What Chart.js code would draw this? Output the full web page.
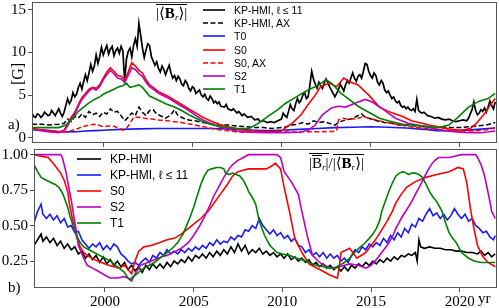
<!DOCTYPE html>
<html><head><meta charset="utf-8">
<script src="https://cdn.jsdelivr.net/npm/chart.js@4"></script>
<style>
html,body{margin:0;padding:0;background:#fff;}
#wrap{position:relative;width:499px;height:308px;overflow:hidden;background:#fff;}
canvas{position:absolute;left:0;top:0;}
.t{position:absolute;font-family:"Liberation Serif","DejaVu Serif",serif;color:#000;white-space:nowrap;line-height:1;}
.leg{position:absolute;font-family:"Liberation Sans","DejaVu Sans",sans-serif;color:#000;}
.leg .row{display:flex;align-items:center;white-space:nowrap;}
.ob{display:inline-block;border-top:1px solid #000;padding-top:1px;line-height:1;}
.sb{font-size:9px;font-style:italic;vertical-align:-2px;}
</style></head><body>
<div id="wrap">
<canvas id="cTop" width="499" height="308"></canvas>
<canvas id="cBot" width="499" height="308"></canvas>
<div class="t" style="left:7px;top:66px;font-size:16px;transform:rotate(-90deg);transform-origin:50% 50%;">[G]</div>
<div class="t" style="left:8px;top:117px;font-size:15px;">a)</div>
<div class="t" style="left:8px;top:280px;font-size:15px;">b)</div>
<div class="t" style="left:478px;top:291px;font-size:15px;">yr</div>
<div class="t" style="left:156px;top:4px;font-size:15px;"><span class="ob">|⟨<b>B</b><span class="sb">r</span>⟩|</span></div>
<div class="t" style="left:309px;top:153px;font-size:15px;"><span class="ob">|<span class="ob" style="padding-top:0">B</span><span class="sb">r</span>|</span>/<span class="ob">|⟨<b>B</b><span class="sb">r</span>⟩|</span></div>
<div class="leg" id="legTop" style="left:203px;top:3px;font-size:10.5px;"></div>
<div class="leg" id="legBot" style="left:77px;top:151px;font-size:12px;"></div>
</div>
<script>
// ---------- shared axis values ----------
const xTickYears = [2000, 2005, 2010, 2015, 2020];
const topYTicks = [0, 5, 10, 15];
const botYTicks = [0.25, 0.50, 0.75, 1.00];

// ---------- panel a) : |<B_r>| in G ----------
// [year, value] pairs
const kpL11Top = [[1996.0,2.9],[1996.1,2.5],[1996.2,2.4],[1996.3,2.8],[1996.4,2.7],[1996.5,2.4],[1996.6,2.6],[1996.7,3.0],[1996.8,2.8],[1996.9,2.6],
[1997.0,2.7],[1997.1,3.2],[1997.2,2.9],[1997.3,2.6],[1997.4,3.0],[1997.5,3.4],[1997.6,2.9],[1997.7,2.5],[1997.8,3.0],[1997.9,3.8],
[1998.0,4.6],[1998.1,4.0],[1998.2,4.4],[1998.3,5.3],[1998.4,4.8],[1998.5,5.1],[1998.6,5.9],[1998.7,6.4],[1998.8,5.7],[1998.9,6.6],
[1999.0,7.4],[1999.1,6.7],[1999.2,7.6],[1999.3,8.6],[1999.4,7.8],[1999.5,8.4],[1999.6,9.7],[1999.7,8.7],[1999.8,9.5],[1999.9,10.6],
[2000.0,9.7],[2000.1,10.3],[2000.2,10.8],[2000.3,9.8],[2000.4,10.4],[2000.5,10.7],[2000.6,9.6],[2000.7,10.2],[2000.8,10.5],[2000.9,9.9],
[2001.0,10.7],[2001.1,10.2],[2001.2,6.6],[2001.3,9.2],[2001.4,10.1],[2001.5,10.5],[2001.6,9.5],[2001.7,10.8],[2001.8,11.6],[2001.9,10.7],
[2002.0,13.4],[2002.1,12.0],[2002.2,10.5],[2002.3,9.4],[2002.4,10.3],[2002.5,11.0],[2002.6,10.8],[2002.7,9.5],[2002.8,9.0],[2002.9,8.5],
[2003.0,8.9],[2003.1,8.1],[2003.2,7.7],[2003.3,8.4],[2003.4,8.0],[2003.5,7.4],[2003.6,8.0],[2003.7,8.5],[2003.8,7.6],[2003.9,7.0],
[2004.0,7.3],[2004.1,6.7],[2004.2,7.2],[2004.3,6.9],[2004.4,6.3],[2004.5,6.1],[2004.6,6.7],[2004.7,6.4],[2004.8,5.8],[2004.9,5.5],
[2005.0,6.0],[2005.1,5.8],[2005.2,5.2],[2005.3,5.4],[2005.4,5.6],[2005.5,5.0],[2005.6,4.8],[2005.7,5.1],[2005.8,4.6],[2005.9,4.4],
[2006.0,4.9],[2006.1,4.6],[2006.2,4.1],[2006.3,4.3],[2006.4,4.0],[2006.5,4.2],[2006.6,3.7],[2006.8,3.6],[2006.9,3.9],[2007.0,3.4],
[2007.2,3.2],[2007.3,3.4],[2007.5,2.9],[2007.6,3.1],[2007.8,2.6],[2007.9,2.8],[2008.1,2.4],[2008.3,2.5],[2008.5,2.1],[2008.7,2.2],
[2008.8,1.9],[2009.0,2.0],[2009.2,1.8],[2009.4,1.9],[2009.6,1.8],[2009.8,2.0],[2010.0,2.2],[2010.1,2.9],[2010.2,2.6],[2010.3,2.4],
[2010.4,3.1],[2010.5,3.9],[2010.6,3.4],[2010.7,3.2],[2010.8,4.0],[2010.9,4.6],[2011.0,4.1],[2011.1,4.4],[2011.2,5.0],[2011.3,5.3],
[2011.4,4.6],[2011.5,4.8],[2011.6,6.2],[2011.7,7.8],[2011.8,6.9],[2011.9,6.3],[2012.0,5.8],[2012.1,6.5],[2012.2,6.1],[2012.3,5.8],
[2012.4,6.4],[2012.5,6.9],[2012.6,6.5],[2012.7,6.0],[2012.8,5.6],[2012.9,5.2],[2013.0,4.8],[2013.1,5.2],[2013.2,5.6],[2013.3,6.3],
[2013.4,5.9],[2013.5,5.5],[2013.6,6.2],[2013.7,6.7],[2013.8,6.4],[2013.9,7.0],[2014.0,7.6],[2014.1,7.0],[2014.2,6.6],[2014.3,7.2],
[2014.4,7.4],[2014.5,7.0],[2014.6,7.8],[2014.7,8.7],[2014.8,8.6],[2014.9,7.8],[2015.0,7.3],[2015.1,7.0],[2015.2,7.6],[2015.3,7.3],
[2015.4,6.5],[2015.5,6.2],[2015.6,6.7],[2015.7,6.4],[2015.8,5.6],[2015.9,5.3],[2016.0,5.5],[2016.1,5.0],[2016.2,4.6],[2016.3,4.8],
[2016.4,4.3],[2016.5,4.1],[2016.6,4.3],[2016.7,3.8],[2016.8,3.6],[2016.9,3.7],[2017.0,3.4],[2017.1,3.6],[2017.2,3.3],[2017.3,3.2],
[2017.4,3.4],[2017.5,3.1],[2017.6,4.5],[2017.7,3.2],[2017.8,3.0],[2017.9,2.9],[2018.0,3.0],[2018.2,2.6],[2018.4,2.5],[2018.6,2.3],
[2018.8,2.4],[2019.0,2.2],[2019.2,2.1],[2019.4,2.2],[2019.6,2.0],[2019.8,1.9],[2020.0,2.0],[2020.2,2.1],[2020.4,2.0],[2020.5,2.3],
[2020.6,2.8],[2020.7,3.3],[2020.8,4.2],[2020.9,3.2],[2021.0,2.7],[2021.1,2.9],[2021.2,3.3],[2021.3,3.1],[2021.4,3.5],[2021.5,3.0],
[2021.6,3.6],[2021.7,4.3],[2021.8,3.8],[2021.9,3.4],[2022.0,4.2]];

const kpAxYears = [1996.0,1996.5,1997.0,1997.5,1997.8,1998.0,1998.2,1998.4,1998.6,1998.8,1999.0,1999.2,1999.4,1999.6,1999.8,2000.0,2000.2,2000.4,2000.6,2000.8,2001.0,2001.2,2001.4,2001.6,2001.8,2002.0,2002.2,2002.4,2002.6,2002.8,2003.0,2003.3,2003.5,2003.8,2004.0,2004.2,2004.5,2004.8,2005.1,2005.4,2005.8,2006.2,2006.6,2007.0,2007.5,2008.0,2008.5,2009.0,2009.5,2010.0,2010.3,2010.6,2010.9,2011.2,2011.5,2011.8,2012.1,2012.4,2012.7,2013.0,2013.3,2013.6,2013.9,2014.2,2014.5,2014.7,2014.9,2015.2,2015.5,2015.8,2016.2,2016.6,2017.0,2017.5,2018.0,2018.5,2019.0,2019.5,2020.0,2020.5,2021.0,2021.5,2022.0];
const kpAxVals = [1.6,1.6,1.5,1.6,1.7,2.2,1.9,2.5,2.3,2.8,2.4,3.1,2.7,2.9,2.5,3.0,2.8,3.4,3.0,3.1,2.6,2.0,2.4,2.9,2.6,3.6,3.0,2.6,3.2,3.3,2.8,2.5,2.3,2.7,3.3,2.6,2.3,2.1,2.0,1.9,1.7,1.6,1.5,1.5,1.4,1.3,1.2,1.2,1.1,1.2,1.3,1.5,1.6,1.8,1.6,2.0,1.8,1.9,1.7,1.5,1.9,2.1,2.2,2.5,2.8,2.4,2.3,2.1,1.9,1.8,1.7,1.5,1.5,1.4,1.3,1.3,1.2,1.2,1.2,1.3,1.4,1.5,1.8];

const t0Years = [1996.0,1996.5,1997.0,1997.5,1998.0,1998.5,1999.0,1999.5,2000.0,2001.0,2002.0,2003.0,2004.0,2005.0,2006.0,2007.0,2008.0,2008.5,2009.0,2009.5,2010.0,2011.0,2012.0,2013.0,2014.0,2015.0,2016.0,2017.0,2018.0,2018.7,2019.5,2020.0,2021.0,2022.0];
const t0Vals = [1.0,0.95,0.85,0.75,0.7,0.72,0.8,0.85,0.9,1.0,1.05,1.1,1.1,1.1,1.1,1.05,0.95,0.9,0.85,0.85,0.9,1.0,1.1,1.2,1.25,1.3,1.25,1.15,1.0,0.85,0.8,0.85,1.0,1.15];

const s0TopYears = [1996.0,1996.5,1997.0,1997.5,1997.8,1998.0,1998.2,1998.4,1998.6,1998.8,1999.0,1999.2,1999.4,1999.6,1999.8,2000.0,2000.2,2000.4,2000.6,2000.8,2001.0,2001.2,2001.4,2001.6,2001.8,2002.0,2002.2,2002.4,2002.6,2002.8,2003.1,2003.4,2003.7,2004.0,2004.4,2004.8,2005.2,2005.6,2006.0,2006.5,2007.0,2007.5,2008.0,2008.5,2009.0,2009.5,2010.0,2010.3,2010.6,2011.1,2011.5,2011.9,2012.2,2012.7,2013.1,2013.5,2013.8,2014.3,2014.9,2015.5,2016.0,2016.4,2016.8,2017.3,2017.9,2018.5,2019.0,2019.5,2020.1,2020.6,2020.9,2021.1,2021.3,2021.5,2021.7,2022.0];
const s0TopVals = [1.1,0.95,0.8,0.7,0.9,1.6,2.4,3.0,3.9,4.7,5.2,5.7,5.9,5.8,6.2,7.0,7.7,8.2,7.8,7.3,7.2,6.8,7.7,8.8,8.4,7.9,7.6,6.8,6.2,5.9,5.4,5.1,4.8,4.4,3.9,3.4,2.9,2.4,2.0,1.6,1.3,1.05,0.9,0.8,0.75,0.7,0.8,1.3,1.7,2.7,3.9,5.0,6.0,6.4,6.0,7.0,6.6,6.2,5.0,3.6,3.1,2.8,2.5,2.0,1.7,1.4,1.2,1.0,0.9,1.1,1.6,2.1,2.6,3.1,3.8,4.6];

const s0AxYears = [1996.0,1996.5,1997.0,1997.5,1998.0,1998.3,1998.6,1998.8,1999.2,1999.5,1999.8,2000.0,2000.3,2000.6,2000.9,2001.1,2001.3,2001.5,2001.7,2002.0,2002.3,2002.7,2003.1,2003.6,2004.0,2004.4,2004.9,2005.4,2005.9,2006.3,2006.9,2007.5,2008.0,2009.0,2010.0,2011.0,2012.0,2012.9,2013.1,2013.2,2013.4,2013.7,2014.0,2014.3,2014.6,2014.9,2015.3,2015.7,2016.2,2016.7,2017.2,2017.8,2018.4,2019.0,2019.6,2020.2,2020.8,2021.3,2021.7,2022.0];
const s0AxVals = [1.0,0.9,0.8,0.7,0.7,0.9,1.1,1.3,1.5,1.6,1.45,1.3,1.4,1.35,1.1,0.9,1.1,1.7,2.4,2.4,2.3,2.2,2.1,2.0,1.9,1.8,1.6,1.4,1.2,1.0,0.85,0.72,0.65,0.65,0.7,0.7,0.72,0.75,0.9,2.1,2.3,2.2,2.2,2.3,2.5,2.3,2.1,1.9,1.7,1.5,1.3,1.15,1.05,0.95,0.85,0.8,0.8,0.9,1.0,1.2];

const s2TopYears = [1996.0,1996.5,1997.0,1997.5,1997.8,1998.0,1998.2,1998.4,1998.6,1998.8,1999.0,1999.2,1999.4,1999.6,1999.8,2000.0,2000.2,2000.4,2000.6,2000.8,2001.0,2001.2,2001.4,2001.6,2001.8,2002.0,2002.2,2002.4,2002.6,2002.8,2003.1,2003.4,2003.7,2004.0,2004.4,2004.8,2005.2,2005.6,2006.0,2006.5,2007.0,2007.5,2008.0,2009.0,2010.0,2011.0,2011.5,2011.9,2012.3,2012.8,2013.2,2013.6,2014.2,2014.7,2015.1,2015.6,2016.0,2016.4,2017.1,2018.3,2019.0,2019.8,2020.5,2021.2,2022.0];
const s2TopVals = [1.0,0.85,0.7,0.6,0.8,1.4,2.2,2.8,3.7,4.5,5.0,5.5,5.8,5.6,6.0,6.8,7.4,7.9,7.5,7.0,6.9,6.5,7.3,8.2,8.0,7.5,7.2,6.5,6.0,5.7,5.2,4.9,4.6,4.2,3.7,3.2,2.6,2.1,1.7,1.3,1.0,0.8,0.7,0.6,0.6,0.65,0.9,1.5,2.7,3.5,3.7,3.6,4.1,4.5,4.2,3.5,2.9,2.3,1.7,1.2,0.9,0.7,0.6,0.6,0.8];

const t1TopYears = [1996.0,1996.5,1997.0,1997.5,1997.9,1998.3,1998.6,1998.9,1999.2,1999.5,1999.8,2000.0,2000.3,2000.6,2000.9,2001.1,2001.3,2001.5,2001.7,2002.0,2002.2,2002.6,2003.1,2003.5,2004.0,2004.4,2004.8,2005.2,2005.6,2006.0,2006.5,2007.0,2007.5,2008.2,2008.7,2009.3,2009.8,2010.2,2010.6,2011.0,2011.5,2012.0,2012.3,2012.5,2012.8,2013.0,2013.3,2013.8,2014.3,2014.9,2015.5,2016.0,2016.8,2017.9,2018.8,2019.4,2019.9,2020.5,2021.1,2021.6,2022.0];
const t1TopVals = [1.2,1.2,1.2,1.2,1.5,2.3,3.1,3.6,4.1,4.5,4.8,5.1,5.4,5.7,6.0,6.1,6.4,5.9,6.0,6.2,5.9,4.9,4.4,4.0,3.6,3.2,2.7,2.3,1.9,1.6,1.35,1.2,1.1,1.1,1.7,2.6,3.3,4.0,4.5,5.0,5.6,6.1,6.5,6.8,6.4,6.0,5.3,4.5,3.7,3.0,2.3,2.0,1.6,1.4,1.2,1.5,2.4,3.6,4.3,4.6,5.2];

// ---------- panel b) : |B_r| / |<B_r>| ----------
const kpYears = [1996.0,1996.2,1996.4,1996.5,1996.7,1996.9,1997.1,1997.3,1997.5,1997.7,1997.9,1998.1,1998.3,1998.5,1998.7,1998.9,1999.1,1999.3,1999.5,1999.7,1999.9,2000.1,2000.3,2000.5,2000.7,2000.9,2001.1,2001.3,2001.5,2001.7,2001.9,2002.1,2002.3,2002.5,2002.7,2002.9,2003.1,2003.3,2003.5,2003.7,2003.9,2004.1,2004.3,2004.5,2004.7,2004.9,2005.1,2005.3,2005.5,2005.7,2005.9,2006.1,2006.3,2006.5,2006.7,2006.9,2007.1,2007.3,2007.5,2007.7,2007.9,2008.1,2008.3,2008.5,2008.7,2008.9,2009.1,2009.3,2009.5,2009.7,2009.9,2010.1,2010.3,2010.5,2010.7,2010.9,2011.1,2011.3,2011.5,2011.7,2011.9,2012.1,2012.3,2012.5,2012.7,2012.9,2013.1,2013.3,2013.5,2013.7,2013.9,2014.1,2014.3,2014.5,2014.7,2014.9,2015.1,2015.3,2015.5,2015.7,2015.9,2016.1,2016.3,2016.5,2016.7,2016.9,2017.1,2017.3,2017.5,2017.6,2017.7,2017.8,2018.0,2018.3,2018.6,2018.9,2019.2,2019.5,2019.8,2020.1,2020.4,2020.7,2021.0,2021.2,2021.4,2021.6,2021.8,2022.0];
const kpVals = [0.36,0.40,0.44,0.39,0.42,0.38,0.41,0.36,0.39,0.34,0.37,0.33,0.35,0.30,0.32,0.27,0.30,0.26,0.29,0.24,0.28,0.23,0.26,0.22,0.25,0.21,0.24,0.19,0.22,0.18,0.21,0.17,0.22,0.19,0.23,0.20,0.23,0.20,0.24,0.21,0.25,0.23,0.26,0.24,0.28,0.25,0.29,0.27,0.30,0.27,0.31,0.28,0.32,0.29,0.33,0.30,0.35,0.31,0.37,0.32,0.36,0.30,0.33,0.31,0.34,0.30,0.32,0.29,0.31,0.28,0.30,0.27,0.30,0.26,0.28,0.25,0.27,0.24,0.26,0.22,0.24,0.21,0.23,0.20,0.22,0.19,0.21,0.18,0.21,0.18,0.22,0.20,0.23,0.21,0.24,0.22,0.25,0.23,0.26,0.24,0.27,0.25,0.28,0.26,0.29,0.28,0.30,0.29,0.31,0.25,0.40,0.35,0.34,0.35,0.34,0.34,0.33,0.33,0.32,0.32,0.31,0.31,0.30,0.32,0.29,0.31,0.28,0.30];

const kpL11RatioYears = [1996.0,1996.2,1996.4,1996.5,1996.7,1996.9,1997.1,1997.3,1997.5,1997.7,1997.9,1998.1,1998.3,1998.5,1998.7,1998.9,1999.1,1999.3,1999.5,1999.7,1999.9,2000.1,2000.3,2000.5,2000.7,2000.9,2001.1,2001.3,2001.5,2001.7,2001.9,2002.1,2002.3,2002.5,2002.7,2002.9,2003.1,2003.3,2003.5,2003.7,2003.9,2004.1,2004.3,2004.5,2004.7,2004.9,2005.1,2005.3,2005.5,2005.7,2005.9,2006.1,2006.3,2006.5,2006.7,2006.9,2007.1,2007.3,2007.5,2007.7,2007.9,2008.1,2008.3,2008.5,2008.7,2008.9,2009.1,2009.3,2009.5,2009.7,2009.9,2010.1,2010.3,2010.5,2010.7,2010.9,2011.1,2011.3,2011.5,2011.7,2011.9,2012.1,2012.3,2012.5,2012.7,2012.9,2013.1,2013.3,2013.5,2013.7,2013.9,2014.1,2014.3,2014.5,2014.7,2014.9,2015.1,2015.3,2015.5,2015.7,2015.9,2016.1,2016.3,2016.5,2016.7,2016.9,2017.1,2017.3,2017.5,2017.7,2017.9,2018.1,2018.3,2018.5,2018.7,2018.9,2019.1,2019.3,2019.5,2019.7,2019.9,2020.1,2020.3,2020.5,2020.7,2020.9,2021.1,2021.3,2021.5,2021.7,2021.9,2022.0];
const kpL11RatioVals = [0.52,0.60,0.65,0.58,0.55,0.58,0.54,0.57,0.52,0.55,0.49,0.50,0.45,0.46,0.40,0.37,0.34,0.37,0.35,0.38,0.33,0.36,0.33,0.37,0.35,0.30,0.28,0.25,0.23,0.24,0.22,0.25,0.27,0.24,0.29,0.27,0.31,0.29,0.33,0.30,0.32,0.30,0.33,0.31,0.34,0.32,0.35,0.33,0.36,0.34,0.38,0.36,0.40,0.37,0.39,0.38,0.42,0.40,0.43,0.42,0.47,0.46,0.50,0.48,0.55,0.50,0.47,0.44,0.47,0.43,0.45,0.41,0.43,0.39,0.41,0.36,0.35,0.31,0.33,0.29,0.31,0.28,0.31,0.27,0.30,0.27,0.29,0.25,0.27,0.24,0.29,0.33,0.31,0.35,0.33,0.37,0.35,0.38,0.36,0.41,0.38,0.43,0.40,0.45,0.42,0.48,0.45,0.51,0.49,0.55,0.53,0.58,0.62,0.57,0.59,0.55,0.58,0.54,0.57,0.62,0.58,0.55,0.58,0.53,0.55,0.50,0.48,0.45,0.46,0.42,0.40,0.43];

const s0RatioYears = [1996.0,1996.4,1996.8,1997.0,1997.2,1997.5,1997.7,1997.9,1998.0,1998.2,1998.4,1998.6,1998.8,1999.0,1999.4,1999.8,2000.2,2000.5,2000.8,2001.1,2001.3,2001.5,2001.7,2001.9,2002.2,2002.6,2003.1,2003.5,2003.9,2004.3,2004.6,2005.0,2005.4,2005.8,2006.1,2006.5,2006.9,2007.2,2007.5,2007.8,2008.1,2008.6,2009.1,2009.4,2009.6,2009.9,2010.1,2010.4,2010.7,2011.1,2011.5,2012.1,2012.7,2013.1,2013.2,2013.3,2013.8,2014.2,2014.7,2015.0,2015.3,2015.6,2015.9,2016.2,2016.4,2016.7,2017.0,2017.5,2018.1,2018.7,2019.4,2019.9,2020.2,2020.4,2020.6,2020.8,2021.0,2021.3,2021.6,2022.0];
const s0RatioVals = [1.00,0.99,0.98,0.95,0.92,0.87,0.82,0.74,0.65,0.53,0.42,0.35,0.31,0.29,0.26,0.24,0.22,0.21,0.20,0.22,0.19,0.16,0.25,0.32,0.35,0.36,0.38,0.40,0.41,0.44,0.47,0.51,0.55,0.60,0.65,0.72,0.79,0.85,0.88,0.89,0.90,0.90,0.90,0.92,0.94,0.90,0.77,0.60,0.41,0.31,0.23,0.19,0.15,0.13,0.20,0.31,0.34,0.27,0.31,0.36,0.41,0.47,0.53,0.60,0.66,0.72,0.77,0.81,0.84,0.86,0.88,0.91,0.90,0.80,0.62,0.48,0.36,0.28,0.24,0.21];

const s2RatioYears = [1996.0,1997.5,1997.6,1997.8,1997.9,1998.1,1998.2,1998.4,1998.5,1998.8,1999.0,1999.3,1999.6,2000.0,2000.3,2000.7,2001.1,2001.3,2001.5,2001.7,2002.0,2002.4,2002.8,2003.2,2003.5,2004.0,2004.3,2004.7,2005.0,2005.3,2005.6,2005.9,2006.1,2006.4,2006.7,2007.0,2007.2,2007.5,2007.8,2008.1,2009.7,2009.9,2010.1,2010.5,2010.9,2011.1,2011.4,2011.7,2012.1,2012.7,2013.2,2013.8,2014.3,2014.7,2015.0,2015.3,2015.6,2015.9,2016.2,2016.4,2016.7,2017.0,2017.3,2017.5,2017.8,2018.0,2018.2,2018.4,2018.6,2018.8,2019.4,2020.1,2020.9,2021.0,2021.2,2021.4,2021.5,2021.7,2021.8,2022.0];
const s2RatioVals = [1.00,1.00,0.98,0.88,0.81,0.68,0.60,0.45,0.36,0.27,0.22,0.20,0.18,0.15,0.13,0.13,0.14,0.13,0.11,0.16,0.22,0.24,0.26,0.28,0.29,0.32,0.34,0.38,0.43,0.49,0.56,0.64,0.70,0.77,0.84,0.90,0.93,0.96,0.98,1.00,1.00,0.98,0.88,0.81,0.72,0.60,0.43,0.29,0.24,0.20,0.21,0.23,0.22,0.20,0.22,0.26,0.31,0.36,0.42,0.48,0.55,0.61,0.67,0.72,0.79,0.84,0.89,0.93,0.96,0.98,0.98,1.00,1.00,0.98,0.93,0.85,0.79,0.67,0.60,0.55];

const t1RatioYears = [1996.0,1996.2,1996.4,1996.7,1997.0,1997.2,1997.4,1997.6,1997.7,1997.9,1998.0,1998.2,1998.4,1998.6,1998.8,1999.1,1999.4,1999.7,2000.0,2000.3,2000.5,2000.8,2001.1,2001.3,2001.4,2001.6,2001.9,2002.2,2002.5,2002.8,2003.1,2003.5,2003.8,2004.1,2004.4,2004.6,2004.8,2005.0,2005.2,2005.4,2005.6,2005.8,2006.0,2006.3,2006.5,2006.7,2006.8,2007.0,2007.2,2007.4,2007.6,2007.8,2008.0,2008.1,2008.3,2008.5,2008.7,2009.0,2009.3,2009.7,2010.0,2010.4,2010.8,2011.1,2011.5,2011.9,2012.3,2012.7,2013.0,2013.2,2013.5,2013.8,2014.0,2014.3,2014.6,2014.9,2015.1,2015.3,2015.5,2015.6,2015.8,2016.0,2016.2,2016.4,2016.6,2016.8,2017.0,2017.1,2017.3,2017.5,2017.7,2017.9,2018.1,2018.3,2018.5,2018.7,2019.0,2019.2,2019.4,2019.6,2019.8,2020.1,2020.3,2020.5,2020.8,2021.2,2021.6,2022.0];
const t1RatioVals = [0.93,0.88,0.84,0.82,0.80,0.79,0.77,0.73,0.70,0.63,0.58,0.50,0.43,0.38,0.35,0.33,0.31,0.29,0.27,0.25,0.23,0.20,0.17,0.13,0.12,0.14,0.17,0.20,0.22,0.24,0.27,0.31,0.34,0.38,0.44,0.50,0.56,0.63,0.71,0.79,0.85,0.89,0.90,0.91,0.91,0.90,0.87,0.86,0.87,0.86,0.85,0.82,0.77,0.74,0.70,0.65,0.53,0.43,0.36,0.31,0.30,0.29,0.27,0.26,0.24,0.22,0.21,0.20,0.20,0.22,0.24,0.27,0.30,0.34,0.37,0.41,0.44,0.48,0.54,0.60,0.67,0.74,0.80,0.85,0.87,0.88,0.87,0.86,0.87,0.87,0.86,0.84,0.79,0.74,0.70,0.67,0.60,0.52,0.45,0.41,0.38,0.31,0.29,0.27,0.25,0.24,0.24,0.24];

// ---------- helpers ----------
const BLACK = '#000000', BLUE = '#1a1aff', RED = '#ff0000', MAG = '#bf00bf', GREEN = '#008000';
const DASH = [5, 2.5];
function pts(xs, ys) { return xs.map((x, i) => ({ x: x, y: ys[i] })); }
function pairPts(p) { return p.map(q => ({ x: q[0], y: q[1] })); }
function ds(label, data, color, dash, width) {
  return { label: label, data: data, borderColor: color, backgroundColor: color,
           borderDash: dash || [], borderWidth: width || 1.5, pointRadius: 0, fill: false, tension: 0 };
}
function order(list) { list.forEach((d, i) => d.order = list.length - i); return list; }

const topSets = order([
  ds('KP-HMI, ℓ ≤ 11', pairPts(kpL11Top), BLACK, null, 1.7),
  ds('KP-HMI, AX', pts(kpAxYears, kpAxVals), BLACK, DASH, 1.5),
  ds('T0', pts(t0Years, t0Vals), BLUE, null, 1.6),
  ds('S0', pts(s0TopYears, s0TopVals), RED, null, 1.6),
  ds('S0, AX', pts(s0AxYears, s0AxVals), RED, DASH, 1.5),
  ds('S2', pts(s2TopYears, s2TopVals), MAG, null, 1.6),
  ds('T1', pts(t1TopYears, t1TopVals), GREEN, null, 1.6)
]);
const botSets = order([
  ds('KP-HMI', pts(kpYears, kpVals), BLACK, null, 1.6),
  ds('KP-HMI, ℓ ≤ 11', pts(kpL11RatioYears, kpL11RatioVals), BLUE, null, 1.6),
  ds('S0', pts(s0RatioYears, s0RatioVals), RED, null, 1.6),
  ds('S2', pts(s2RatioYears, s2RatioVals), MAG, null, 1.6),
  ds('T1', pts(t1RatioYears, t1RatioVals), GREEN, null, 1.6)
]);

const FRAME = '#555';
const framePlugin = {
  id: 'frame',
  afterDraw(chart) {
    const a = chart.chartArea, c = chart.ctx;
    c.save(); c.strokeStyle = FRAME; c.lineWidth = 1;
    c.strokeRect(Math.round(a.left) + 0.5, Math.round(a.top) + 0.5, Math.round(a.right - a.left) - 1, Math.round(a.bottom - a.top) - 1);
    c.restore();
  }
};
function zeroPad(s) { s.paddingTop = 0; s.paddingBottom = 0; s.paddingLeft = 0; s.paddingRight = 0; }

function makeChart(id, sets, cfg) {
  return new Chart(document.getElementById(id), {
    type: 'line',
    data: { datasets: sets },
    plugins: [framePlugin],
    options: {
      responsive: false, animation: false, devicePixelRatio: 1, events: [],
      layout: { padding: cfg.padding },
      plugins: { legend: { display: false }, tooltip: { enabled: false } },
      scales: {
        x: {
          type: 'linear', min: 1996, max: 2022.1,
          afterBuildTicks: s => { s.ticks = xTickYears.map(v => ({ value: v })); },
          afterFit: s => { s.height = cfg.xh; zeroPad(s); },
          border: { display: false },
          grid: { drawOnChartArea: false, drawTicks: true, tickLength: 4, color: FRAME },
          ticks: { display: cfg.xLabels, padding: 1, color: '#000', maxRotation: 0,
                   font: { family: 'Liberation Serif', size: 15 },
                   callback: v => String(v) }
        },
        y: {
          type: 'linear', min: cfg.ymin, max: cfg.ymax,
          afterBuildTicks: s => { s.ticks = cfg.yticks.map(v => ({ value: v })); },
          afterFit: s => { s.width = cfg.yw; zeroPad(s); },
          border: { display: false },
          grid: { drawOnChartArea: false, drawTicks: true, tickLength: 4, color: FRAME },
          ticks: { padding: 2, color: '#000', font: { family: 'Liberation Serif', size: 15 },
                   callback: cfg.yfmt }
        }
      }
    }
  });
}

makeChart('cTop', topSets, { padding: { left: 0, right: 2, top: 2, bottom: 161 }, xh: 4, yw: 32,
  xLabels: false, ymin: -0.6, ymax: 15.9, yticks: topYTicks, yfmt: v => String(v) });
makeChart('cBot', botSets, { padding: { left: 0, right: 2, top: 149, bottom: 0 }, xh: 20, yw: 34,
  xLabels: true, ymin: 0.06, ymax: 1.04, yticks: botYTicks, yfmt: v => v.toFixed(2) });

// ---------- HTML legends built from the datasets ----------
function legend(el, sets, lineW, gap, rowH) {
  const box = document.getElementById(el);
  sets.forEach(d => {
    const row = document.createElement('div'); row.className = 'row'; row.style.height = rowH + 'px';
    const dash = d.borderDash.length ? ` stroke-dasharray="${d.borderDash.join(',')}"` : '';
    row.innerHTML = `<svg width="${lineW}" height="4" style="margin-right:${gap}px"><line x1="0" y1="2" x2="${lineW}" y2="2" stroke="${d.borderColor}" stroke-width="1.6"${dash}/></svg><span></span>`;
    row.querySelector('span').textContent = d.label;
    box.appendChild(row);
  });
}
legend('legTop', topSets, 22, 9, 13.3);
legend('legBot', botSets, 24, 9, 16);
</script>
</body></html>
